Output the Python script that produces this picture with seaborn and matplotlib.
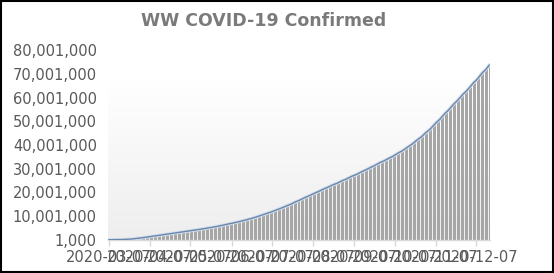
import numpy as np
import pandas as pd
import matplotlib
matplotlib.use("Agg")
import matplotlib.pyplot as plt
from matplotlib.ticker import FuncFormatter
from matplotlib.patches import Rectangle
from matplotlib.colors import LinearSegmentedColormap
import seaborn as sns

# ---- data: worldwide cumulative confirmed cases (millions), daily 2020-03-07 .. 2020-12-17
start_date = "2020-03-07"
confirmed_m = [
    # March 7-31
    0.106, 0.110, 0.114, 0.119, 0.126, 0.134, 0.145, 0.157, 0.168, 0.182,
    0.198, 0.218, 0.246, 0.275, 0.305, 0.337, 0.378, 0.418, 0.467, 0.529,
    0.593, 0.660, 0.720, 0.782, 0.857,
    # April
    0.932, 1.013, 1.096, 1.176, 1.249, 1.321, 1.396, 1.477, 1.560, 1.656,
    1.734, 1.836, 1.906, 1.976, 2.056, 2.152, 2.240, 2.317, 2.401, 2.472,
    2.549, 2.624, 2.708, 2.795, 2.881, 2.955, 3.023, 3.097, 3.172, 3.256,
    # May
    3.343, 3.428, 3.506, 3.583, 3.662, 3.755, 3.845, 3.937, 4.024, 4.101,
    4.177, 4.261, 4.347, 4.442, 4.543, 4.636, 4.714, 4.801, 4.897, 5.002,
    5.107, 5.210, 5.310, 5.407, 5.495, 5.589, 5.691, 5.810, 5.934, 6.059,
    6.167,
    # June
    6.265, 6.381, 6.498, 6.628, 6.755, 6.883, 6.994, 7.098, 7.219, 7.354,
    7.491, 7.632, 7.768, 7.899, 8.040, 8.179, 8.336, 8.474, 8.650, 8.809,
    8.938, 9.080, 9.247, 9.418, 9.597, 9.795, 9.980, 10.144, 10.307, 10.489,
    # July
    10.699, 10.912, 11.114, 11.303, 11.480, 11.648, 11.862, 12.075, 12.306, 12.538,
    12.764, 12.952, 13.150, 13.364, 13.598, 13.846, 14.093, 14.327, 14.534, 14.745,
    14.984, 15.268, 15.543, 15.830, 16.087, 16.302, 16.523, 16.770, 17.053, 17.345,
    17.640,
    # August
    17.899, 18.112, 18.330, 18.586, 18.858, 19.140, 19.428, 19.691, 19.910, 20.132,
    20.389, 20.675, 20.958, 21.248, 21.500, 21.720, 21.931, 22.185, 22.459, 22.733,
    23.005, 23.244, 23.451, 23.660, 23.893, 24.175, 24.456, 24.745, 25.000, 25.208,
    25.421,
    # September
    25.678, 25.958, 26.245, 26.557, 26.816, 27.034, 27.236, 27.474, 27.757, 28.056,
    28.365, 28.647, 28.869, 29.103, 29.372, 29.667, 29.984, 30.300, 30.593, 30.812,
    31.045, 31.324, 31.630, 31.945, 32.265, 32.550, 32.787, 33.002, 33.276, 33.560,
    # October
    33.880, 34.196, 34.490, 34.740, 35.007, 35.306, 35.660, 36.000, 36.360, 36.700,
    36.980, 37.270, 37.600, 37.980, 38.390, 38.800, 39.180, 39.540, 39.920, 40.300,
    40.740, 41.220, 41.690, 42.140, 42.530, 42.890, 43.350, 43.870, 44.430, 44.990,
    45.470,
    # November
    45.890, 46.360, 46.870, 47.450, 48.070, 48.700, 49.290, 49.790, 50.310, 50.850,
    51.510, 52.150, 52.820, 53.420, 53.930, 54.460, 55.050, 55.680, 56.340, 57.010,
    57.600, 58.110, 58.640, 59.260, 59.900, 60.520, 61.190, 61.780, 62.250, 62.790,
    # December 1-17
    63.420, 64.100, 64.790, 65.480, 66.110, 66.620, 67.160, 67.770, 68.460, 69.160,
    69.870, 70.520, 71.040, 71.580, 72.230, 72.980, 73.700,
]
tick_dates = ["2020-03-07", "2020-04-07", "2020-05-07", "2020-06-07", "2020-07-07",
              "2020-08-07", "2020-09-07", "2020-10-07", "2020-11-07", "2020-12-07"]
y_ticks = [1000 + 10_000_000 * k for k in range(9)]
title = "WW COVID-19 Confirmed"

dates = pd.date_range(start_date, periods=len(confirmed_m), freq="D")
df = pd.DataFrame({
    "idx": np.arange(len(confirmed_m)),
    "date": dates,
    "confirmed": np.array(confirmed_m) * 1e6,
})

sns.set_theme(style="white")
plt.rcParams["font.family"] = ["DejaVu Sans"]

fig = plt.figure(figsize=(5.54, 2.73), dpi=100)
fig.patch.set_facecolor("white")
ax = fig.add_axes([108 / 554, 33 / 273, 382 / 554, 190 / 273])

# subtle gradient backdrop
cmap = LinearSegmentedColormap.from_list("bg", ["#eeeeee", "#ffffff"])
ax.imshow(np.linspace(0, 1, 100).reshape(-1, 1), cmap=cmap, aspect="auto",
          extent=[-0.5, len(df) - 0.5, 1000, 68_000_000], origin="lower", zorder=0)

sns.barplot(data=df, x="idx", y="confirmed", native_scale=True, color="#a6a6a6",
            width=0.75, linewidth=0, errorbar=None, antialiased=False,
            saturation=1, ax=ax, zorder=2)
sns.lineplot(data=df, x="idx", y="confirmed", color="#d3deec", linewidth=2.4, ax=ax, zorder=3)
sns.lineplot(data=df, x="idx", y="confirmed", color="#6a86aa", linewidth=1.0, ax=ax, zorder=4)

ax.set_xlim(-0.5, len(df) - 0.5)
ax.set_ylim(1000, 80_001_000)
ax.set_yticks(y_ticks)
ax.yaxis.set_major_formatter(FuncFormatter(lambda v, p: f"{int(round(v)):,}"))
tick_idx = [int((pd.Timestamp(d) - dates[0]).days) for d in tick_dates]
ax.set_xticks(tick_idx)
ax.set_xticklabels(tick_dates)
ax.set_xlabel("")
ax.set_ylabel("")
ax.grid(False)
for s in ["top", "right", "left"]:
    ax.spines[s].set_visible(False)
ax.spines["bottom"].set_color("#d9d9d9")
ax.spines["bottom"].set_linewidth(1.0)
ax.tick_params(axis="x", length=4, width=1, color="#d9d9d9", pad=3.5,
               labelsize=10.5, labelcolor="#595959", bottom=True)
ax.tick_params(axis="y", length=0, pad=8, labelsize=10.5, labelcolor="#595959")

fig.text(264 / 554, 1 - 21 / 273, title, ha="center", va="center",
         fontsize=12.5, fontweight="bold", color="#7a7a7a")

fig.add_artist(Rectangle((0.001, 0.002), 0.997, 0.996, transform=fig.transFigure,
                         fill=False, edgecolor="black", linewidth=1.5))

fig.savefig("out.png", dpi=100)
